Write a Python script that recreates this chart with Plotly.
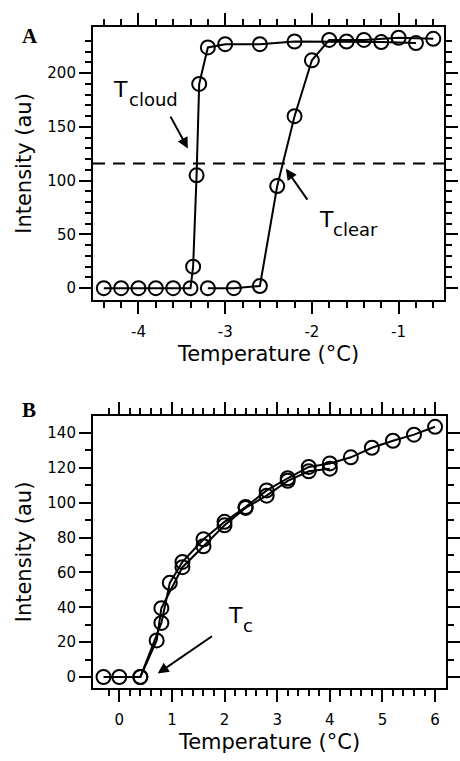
import numpy as np
import plotly.graph_objects as go

# ---------------- data ----------------
# Panel A: cooling (cloud point) and heating (clear point) runs
a_cool_temp = [-4.4, -4.2, -4.0, -3.8, -3.6, -3.4, -3.37, -3.33, -3.3, -3.2, -3.0, -2.6, -2.2, -1.6, -1.2, -0.8]
a_cool_int = [0, 0, 0, 0, 0, 0, 20, 105, 190, 224, 227, 227, 229.5, 229.5, 229, 228]
a_heat_temp = [-3.2, -2.9, -2.6, -2.4, -2.2, -2.0, -1.8, -1.4, -1.0, -0.6]
a_heat_int = [0, 0, 2, 95, 160, 212, 231, 231, 233, 232]
a_level = 116  # dashed threshold line

# Panel B: two runs
b_run1_temp = [-0.3, 0.0, 0.4, 0.71, 0.8, 1.2, 1.6, 2.0, 2.4, 2.8, 3.2, 3.6, 4.0]
b_run1_int = [0, 0, 0, 21, 39.5, 63, 75, 87, 97, 104, 112.5, 118, 119.5]
b_run2_temp = [0.4, 0.8, 0.96, 1.2, 1.6, 2.0, 2.4, 2.8, 3.2, 3.6, 4.0, 4.4, 4.8, 5.2, 5.6, 6.0]
b_run2_int = [0, 31, 54, 66, 79, 89, 97.5, 107, 114, 120.5, 122.5, 126, 131.5, 135.5, 139, 143.5]

# tick labels
a_x_major = [-4, -3, -2, -1]
a_x_labels = ["-4", "-3", "-2", "-1"]
a_y_major = [0, 50, 100, 150, 200]
b_x_major = [0, 1, 2, 3, 4, 5, 6]
b_y_major = [0, 20, 40, 60, 80, 100, 120, 140]

x_title = "Temperature (°C)"
y_title = "Intensity (au)"

# ---------------- layout helpers ----------------
W, H = 460, 761
FONT = "DejaVu Sans"


def minor_vals(lo, hi, step, majors):
    vals = np.round(np.arange(lo, hi + step / 2, step), 6)
    return [float(v) for v in vals if not any(abs(v - m) < 1e-6 for m in majors)]


def px_x(p):
    return p / W


def px_y(p):
    return 1 - p / H


axis_common = dict(
    showline=True, linecolor="black", linewidth=2, mirror="allticks",
    ticks="outside", ticklen=12, tickwidth=2, tickcolor="black",
    showgrid=False, zeroline=False,
    tickfont=dict(family=FONT, size=15, color="black"),
    title_font=dict(family=FONT, size=21, color="black"),
)
minor_common = dict(tickmode="array", ticklen=6, tickwidth=2, tickcolor="black", ticks="outside")

fig = go.Figure()

mk = dict(symbol="circle-open", size=14, color="black", line=dict(width=2, color="black"))
ln = dict(color="black", width=2)

fig.add_trace(go.Scatter(x=a_cool_temp, y=a_cool_int, mode="lines+markers", marker=mk, line=ln,
                         xaxis="x", yaxis="y", showlegend=False))
fig.add_trace(go.Scatter(x=a_heat_temp, y=a_heat_int, mode="lines+markers", marker=mk, line=ln,
                         xaxis="x", yaxis="y", showlegend=False))
fig.add_trace(go.Scatter(x=b_run1_temp, y=b_run1_int, mode="lines+markers", marker=mk, line=ln,
                         xaxis="x2", yaxis="y2", showlegend=False))
fig.add_trace(go.Scatter(x=b_run2_temp, y=b_run2_int, mode="lines+markers", marker=mk, line=ln,
                         xaxis="x2", yaxis="y2", showlegend=False))

fig.update_layout(
    width=W, height=H, margin=dict(l=0, r=0, t=0, b=0),
    paper_bgcolor="white", plot_bgcolor="white",
    font=dict(family=FONT, color="black"),
    xaxis=dict(axis_common, domain=[px_x(94), px_x(449)], anchor="y", range=[-4.525, -0.475],
               tickmode="array", tickvals=a_x_major, ticktext=a_x_labels, ticklabelstandoff=5,
               minor=dict(minor_common, tickvals=minor_vals(-4.4, -0.6, 0.2, a_x_major)),
               title=dict(text=x_title, standoff=6)),
    yaxis=dict(axis_common, domain=[px_y(300), px_y(27)], anchor="x", range=[-11, 243],
               tickmode="array", tickvals=a_y_major,
               minor=dict(minor_common, tickvals=minor_vals(0, 230, 10, a_y_major)),
               title=dict(text=y_title, standoff=10)),
    xaxis2=dict(axis_common, domain=[px_x(94), px_x(451)], anchor="y2", range=[-0.5, 6.21],
                tickmode="array", tickvals=b_x_major, ticklabelstandoff=5,
                minor=dict(minor_common, tickvals=minor_vals(-0.2, 6.0, 0.2, b_x_major)),
                title=dict(text=x_title, standoff=6)),
    yaxis2=dict(axis_common, domain=[px_y(688), px_y(416)], anchor="x2", range=[-6.3, 149.7],
                tickmode="array", tickvals=b_y_major,
                minor=dict(minor_common, tickvals=minor_vals(0, 140, 10, b_y_major)),
                title=dict(text=y_title, standoff=10)),
)

# dashed threshold line in panel A
fig.add_shape(type="line", xref="x domain", yref="y", x0=0, x1=1, y0=a_level, y1=a_level,
              line=dict(color="black", width=2, dash="12px,8px"))

# arrows
arrow = dict(showarrow=True, arrowhead=2, arrowsize=1.1, arrowwidth=2, arrowcolor="black", text="")
fig.add_annotation(x=-3.43, y=130, ax=-3.64, ay=161, xref="x", yref="y", axref="x", ayref="y", **arrow)
fig.add_annotation(x=-2.30, y=111, ax=-2.04, ay=81, xref="x", yref="y", axref="x", ayref="y", **arrow)
fig.add_annotation(x=0.73, y=2, ax=1.79, ay=24, xref="x2", yref="y2", axref="x2", ayref="y2", **arrow)

# T labels: capital T with a lowered, slightly smaller subscript
big = dict(family=FONT, size=22, color="black")
small = dict(family=FONT, size=18, color="black")


def label(text, left_px, center_px, font):
    fig.add_annotation(x=px_x(left_px), y=px_y(center_px), xref="paper", yref="paper",
                       text=text, showarrow=False, font=font, xanchor="left", yanchor="middle",
                       borderpad=0)


label("T", 113, 90, big)
label("cloud", 129, 100, small)
label("T", 321, 219.5, big)
label("clear", 336, 229, small)
label("T", 229.5, 615, big)
label("c", 245, 625.5, small)

# panel letters
letter_font = dict(family="Liberation Serif", size=21, color="black")
fig.add_annotation(x=px_x(20), y=px_y(22), xref="paper", yref="paper", text="<b>A</b>",
                   showarrow=False, font=letter_font)
fig.add_annotation(x=px_x(20), y=px_y(410), xref="paper", yref="paper", text="<b>B</b>",
                   showarrow=False, font=letter_font)

fig.write_html("out.html")
